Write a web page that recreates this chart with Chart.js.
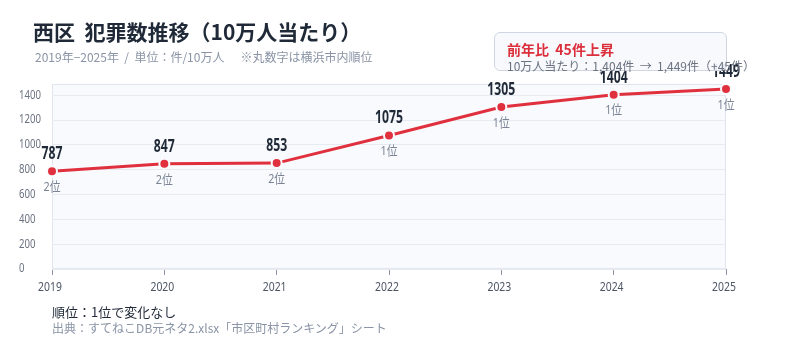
<!DOCTYPE html>
<html lang="ja">
<head>
<meta charset="utf-8">
<script src="https://cdn.jsdelivr.net/npm/chart.js@4.4.1/dist/chart.umd.min.js"></script>
<style>
  html, body { margin: 0; padding: 0; background: #ffffff; }
  #wrap { position: relative; width: 800px; height: 347px; overflow: hidden;
          font-family: "Noto Sans CJK JP", sans-serif; }
  #grafica { position: absolute; left: 0; top: 0; }
  .t { position: absolute; white-space: nowrap; }
  #titulo { left: 33px; top: 16px; font: bold 21px "Noto Sans CJK JP", sans-serif; color: #1f2937; }
  #sub { left: 35px; top: 48px; font-size: 12px; color: #8a94a6; }
  #caja { position: absolute; left: 494px; top: 32px; width: 231px; height: 37px;
          border: 1px solid #cfd6e2; border-radius: 6px; background: rgba(246,248,252,0.92); }
  #caja1 { left: 507px; top: 39px; font: bold 14px "Noto Sans CJK JP", sans-serif; color: #dc2f3c; }
  #caja2 { left: 507px; top: 57px; font-size: 12px; color: #6b7280; }
  #rango { left: 52px; top: 302px; font: 13px "Noto Sans CJK JP", sans-serif; color: #1f2937; }
  #fuente { left: 52px; top: 319px; font-size: 12px; color: #8a94a6; }
</style>
</head>
<body>
<div id="wrap">
  <canvas id="grafica" width="800" height="347"></canvas>
  <div class="t" id="titulo">西区&nbsp;&nbsp;犯罪数推移（10万人当たり）</div>
  <div class="t" id="sub">2019年−2025年&nbsp;&nbsp;/&nbsp;&nbsp;単位：件/10万人&nbsp;&nbsp;&nbsp;&nbsp;&nbsp;&nbsp;※丸数字は横浜市内順位</div>
  <div id="caja"></div>
  <div class="t" id="caja1">前年比&nbsp;&nbsp;45件上昇</div>
  <div class="t" id="caja2">10万人当たり：1,404件&nbsp;&nbsp;→&nbsp;&nbsp;1,449件（+45件）</div>
  <div class="t" id="rango">順位：1位で変化なし</div>
  <div class="t" id="fuente">出典：すてねこDB元ネタ2.xlsx「市区町村ランキング」シート</div>
</div>
<script>
// Datos
const anios = ['2019', '2020', '2021', '2022', '2023', '2024', '2025'];
const delitos = [787, 847, 853, 1075, 1305, 1404, 1449];
const rangos = [2, 2, 2, 1, 1, 1, 1];
const ticksY = [0, 200, 400, 600, 800, 1000, 1200, 1400];

const ctx = document.getElementById('grafica').getContext('2d');
const FUENTE = '"Noto Sans", "Noto Sans CJK JP", sans-serif';

// Texto estrecho (la referencia usa cifras condensadas)
function textoEstrecho(c, txt, x, y, sx, align) {
    c.save();
    c.translate(x, y);
    c.scale(sx, 1);
    c.textAlign = align;
    c.fillText(txt, 0, 0);
    c.restore();
}

// Fondo del área del gráfico
const fondoArea = {
    id: 'fondoArea',
    beforeDraw(chart) {
        const { ctx, chartArea: a } = chart;
        ctx.save();
        ctx.fillStyle = '#f8fafd';
        ctx.fillRect(a.left, a.top, a.right - a.left, a.bottom - a.top);
        ctx.strokeStyle = '#dfe4ee';
        ctx.lineWidth = 1;
        ctx.beginPath();
        ctx.moveTo(a.left + 0.5, a.bottom);
        ctx.lineTo(a.left + 0.5, a.top + 0.5);
        ctx.lineTo(a.right - 0.5, a.top + 0.5);
        ctx.lineTo(a.right - 0.5, a.bottom);
        ctx.stroke();
        ctx.strokeStyle = '#e3e7ef';
        ctx.lineWidth = 2;
        ctx.beginPath();
        ctx.moveTo(a.left, a.bottom);
        ctx.lineTo(a.right, a.bottom);
        ctx.stroke();
        ctx.restore();
    }
};

// Etiquetas de ejes, de valor y de puesto
const etiquetas = {
    id: 'etiquetas',
    afterDraw(chart) {
        const { ctx } = chart;
        const sx = chart.scales.x;
        const sy = chart.scales.y;
        ctx.save();
        ctx.textBaseline = 'middle';

        // ticks eje y
        ctx.fillStyle = '#6b7280';
        ctx.font = '12px ' + FUENTE;
        sy.ticks.forEach(t => {
            textoEstrecho(ctx, String(t.value), 19, sy.getPixelForValue(t.value), 0.8, 'left');
        });

        // ticks eje x
        ctx.fillStyle = '#4b5563';
        ctx.font = '13px ' + FUENTE;
        sx.ticks.forEach((t, i) => {
            textoEstrecho(ctx, anios[i], sx.getPixelForTick(i) - 2, 287, 0.8, 'center');
        });

        // valores y puestos
        const meta = chart.getDatasetMeta(0);
        meta.data.forEach((p, i) => {
            ctx.fillStyle = '#1f2937';
            ctx.font = 'bold 17px ' + FUENTE;
            textoEstrecho(ctx, String(delitos[i]), p.x, p.y - 17, 0.72, 'center');
            ctx.fillStyle = '#7b8494';
            ctx.font = '13px ' + FUENTE;
            textoEstrecho(ctx, rangos[i] + '位', p.x, p.y + 16, 0.83, 'center');
        });
        ctx.restore();
    }
};

new Chart(ctx, {
    type: 'line',
    data: {
        labels: anios,
        datasets: [{
            data: delitos,
            borderColor: '#e0303e',
            backgroundColor: '#e0303e',
            borderWidth: 3,
            pointRadius: 5,
            pointBorderWidth: 2,
            pointBorderColor: '#f8fafd',
            tension: 0,
            fill: false
        }]
    },
    options: {
        responsive: false,
        animation: false,
        layout: { padding: { top: 84, right: 74, bottom: 48, left: 0 } },
        plugins: { legend: { display: false }, tooltip: { enabled: false } },
        scales: {
            x: {
                offset: false,
                border: { display: false },
                grid: { drawOnChartArea: false, drawTicks: true, tickLength: 6, color: '#8a94a6' },
                ticks: { color: 'rgba(0,0,0,0)', font: { size: 12 }, padding: 4, maxRotation: 0 },
                afterFit: s => { s.height = 30; }
            },
            y: {
                min: 0,
                max: 1490,
                afterBuildTicks: s => { s.ticks = ticksY.map(v => ({ value: v })); },
                border: { display: false },
                grid: { color: '#e6eaf1', drawTicks: false },
                ticks: { color: 'rgba(0,0,0,0)', font: { size: 12 } },
                afterFit: s => { s.width = 52; }
            }
        }
    },
    plugins: [fondoArea, etiquetas]
});
</script>
</body>
</html>
